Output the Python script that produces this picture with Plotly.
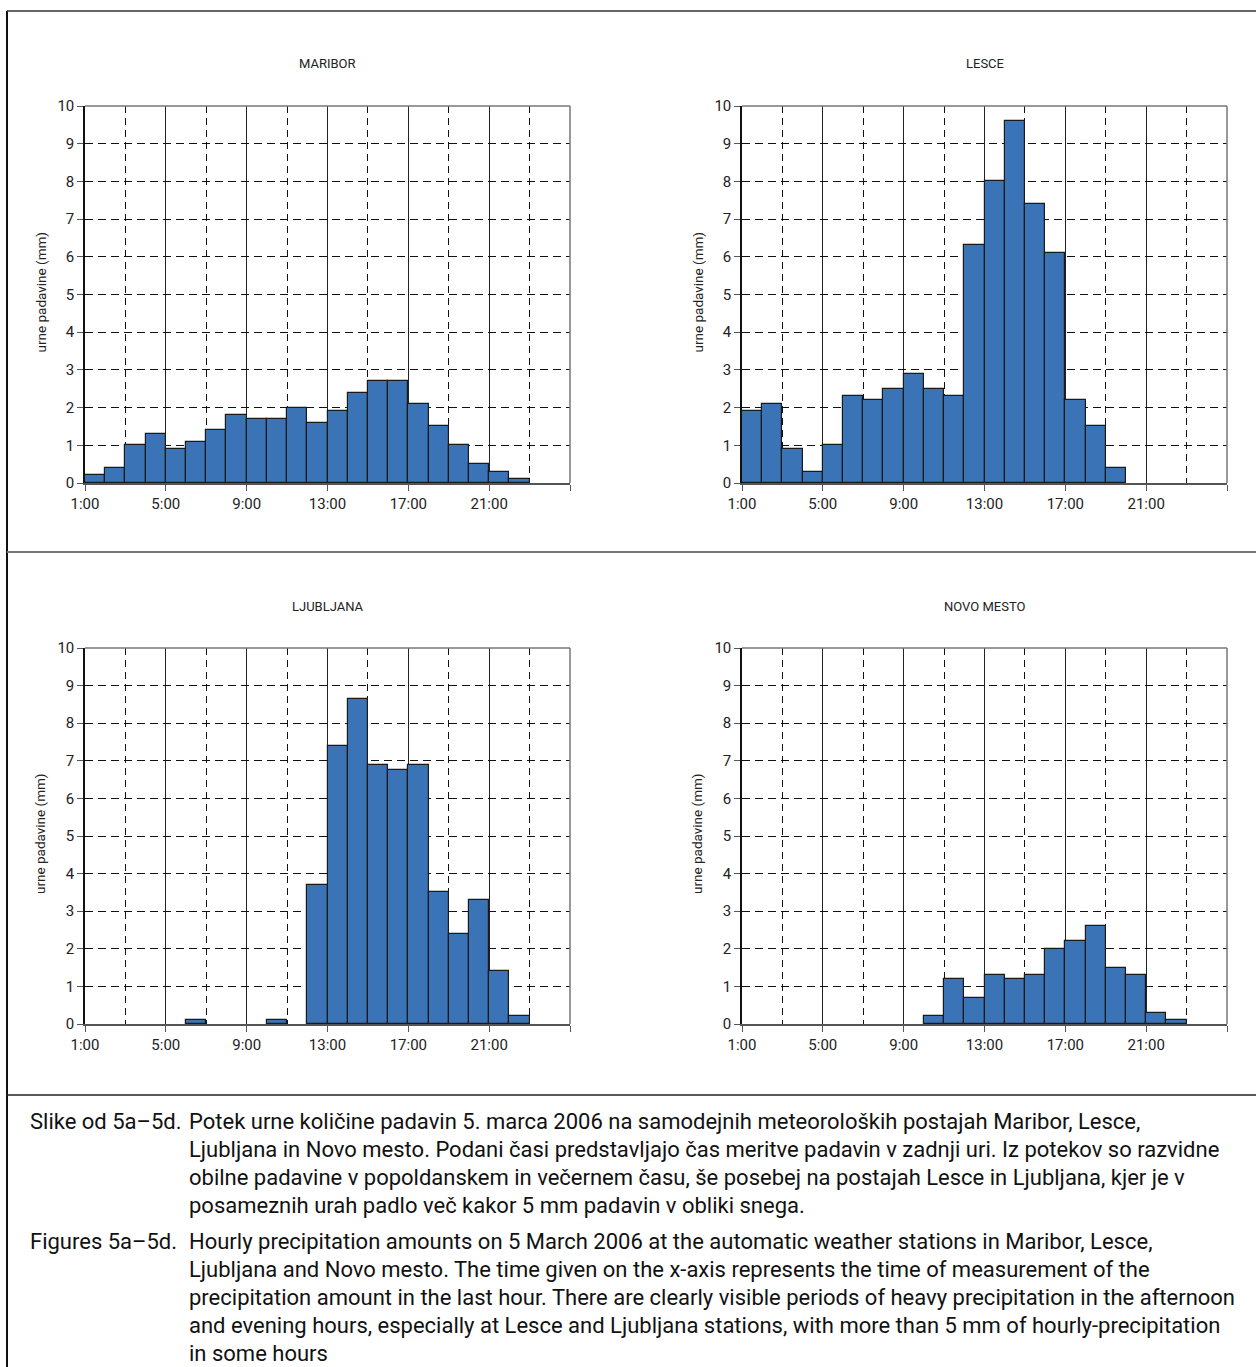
import plotly.graph_objects as go

# ---------------- data ----------------
hour_index = list(range(24))  # hourly slots, first slot labelled 1:00
tick_vals = [0, 4, 8, 12, 16, 20, 24]
tick_text = ["1:00", "5:00", "9:00", "13:00", "17:00", "21:00", ""]

maribor = [0.2, 0.4, 1.0, 1.3, 0.9, 1.1, 1.4, 1.8, 1.7, 1.7, 2.0, 1.6,
           1.9, 2.4, 2.7, 2.7, 2.1, 1.5, 1.0, 0.5, 0.3, 0.1, 0.0, 0.0]
lesce = [1.9, 2.1, 0.9, 0.3, 1.0, 2.3, 2.2, 2.5, 2.9, 2.5, 2.3, 6.3,
         8.0, 9.6, 7.4, 6.1, 2.2, 1.5, 0.4, 0.0, 0.0, 0.0, 0.0, 0.0]
ljubljana = [0.0, 0.0, 0.0, 0.0, 0.0, 0.1, 0.0, 0.0, 0.0, 0.1, 0.0, 3.7,
             7.4, 8.65, 6.9, 6.75, 6.9, 3.5, 2.4, 3.3, 1.4, 0.2, 0.0, 0.0]
novo_mesto = [0.0, 0.0, 0.0, 0.0, 0.0, 0.0, 0.0, 0.0, 0.0, 0.2, 1.2, 0.7,
              1.3, 1.2, 1.3, 2.0, 2.2, 2.6, 1.5, 1.3, 0.3, 0.1, 0.0, 0.0]

station_names = ["MARIBOR", "LESCE", "LJUBLJANA", "NOVO MESTO"]
station_values = [maribor, lesce, ljubljana, novo_mesto]
y_title = "urne padavine (mm)"

caption_label_sl = "Slike od 5a–5d."
caption_sl = [
    "Potek urne količine padavin 5. marca 2006 na samodejnih meteoroloških postajah Maribor, Lesce,",
    "Ljubljana in Novo mesto. Podani časi predstavljajo čas meritve padavin v zadnji uri. Iz potekov so razvidne",
    "obilne padavine v popoldanskem in večernem času, še posebej na postajah Lesce in Ljubljana, kjer je v",
    "posameznih urah padlo več kakor 5 mm padavin v obliki snega.",
]
caption_label_en = "Figures 5a–5d."
caption_en = [
    "Hourly precipitation amounts on 5 March 2006 at the automatic weather stations in Maribor, Lesce,",
    "Ljubljana and Novo mesto. The time given on the x-axis represents the time of measurement of the",
    "precipitation amount in the last hour. There are clearly visible periods of heavy precipitation in the afternoon",
    "and evening hours, especially at Lesce and Ljubljana stations, with more than 5 mm of hourly-precipitation",
    "in some hours",
]

# ---------------- layout helpers ----------------
W, H = 1256, 1367
FONT = "Roboto, Liberation Sans, Arial, sans-serif"
BAR_COLOR = "#3A74B7"


def px_x(p):
    return p / W


def px_y(p):
    return 1 - p / H


# plot areas in pixels: (left, right, top, bottom)
areas = [(85, 570, 106, 483), (742, 1227, 106, 483),
         (85, 570, 648, 1024), (742, 1227, 648, 1024)]

fig = go.Figure()
layout = dict(
    width=W, height=H, autosize=False,
    margin=dict(l=0, r=0, t=0, b=0, pad=0, autoexpand=False),
    paper_bgcolor="white", plot_bgcolor="white",
    showlegend=False, bargap=0,
    font=dict(family=FONT, color="#222"),
)
annotations = []
shapes = []

for k, (name, vals) in enumerate(zip(station_names, station_values)):
    n = k + 1
    xa = "x" if n == 1 else f"x{n}"
    ya = "y" if n == 1 else f"y{n}"
    l, r, t, b = areas[k]
    # hours with no precipitation draw no bar
    shown = [v if v > 0 else None for v in vals]
    fig.add_trace(go.Bar(
        x=hour_index, y=shown, offset=0, width=1,
        marker=dict(color=BAR_COLOR, line=dict(color="#1a1a1a", width=1.2)),
        xaxis=xa, yaxis=ya, hoverinfo="x+y",
    ))
    layout["xaxis" if n == 1 else f"xaxis{n}"] = dict(
        domain=[px_x(l), px_x(r)], anchor=ya, range=[0, 24],
        tickmode="array", tickvals=tick_vals, ticktext=tick_text,
        ticks="outside", ticklen=6, tickcolor="#555", tickwidth=1,
        showline=True, linecolor="#555", linewidth=1.5,
        showgrid=True, gridcolor="#222", gridwidth=1,
        zeroline=False, tickfont=dict(size=15, family=FONT, color="#222"),
        minor=dict(tickmode="array", tickvals=[2, 6, 10, 14, 18, 22],
                   showgrid=True, gridcolor="#111", griddash="7px,5px",
                   gridwidth=1, ticks=""),
        fixedrange=True, automargin=False,
    )
    layout["yaxis" if n == 1 else f"yaxis{n}"] = dict(
        domain=[px_y(b), px_y(t)], anchor=xa, range=[0, 10],
        tickmode="linear", tick0=0, dtick=1,
        ticks="outside", ticklen=6, tickcolor="#555", tickwidth=1,
        showline=True, linecolor="#111", linewidth=1.5,
        showgrid=True, gridcolor="#111", gridwidth=1, griddash="8px,5px",
        zeroline=False, tickfont=dict(size=15, family=FONT, color="#222"),
        fixedrange=True, automargin=False,
    )
    # top and right plot-area border (grey)
    shapes.append(dict(type="line", xref=f"{xa} domain", yref=f"{ya} domain",
                       x0=0, x1=1, y0=1, y1=1,
                       line=dict(color="#777", width=1.5)))
    shapes.append(dict(type="line", xref=f"{xa} domain", yref=f"{ya} domain",
                       x0=1, x1=1, y0=0, y1=1,
                       line=dict(color="#777", width=1.5)))
    # station title
    annotations.append(dict(text=name, x=px_x((l + r) / 2), y=px_y(t - 42),
                            xref="paper", yref="paper", showarrow=False,
                            xanchor="center", yanchor="middle",
                            font=dict(size=13, family=FONT, color="#222")))
    # y-axis title
    annotations.append(dict(text=y_title, x=px_x(l - 45), y=px_y((t + b) / 2 - 2),
                            xref="paper", yref="paper", showarrow=False,
                            textangle=-90, xanchor="center", yanchor="middle",
                            font=dict(size=13.5, family=FONT, color="#222")))

# outer frame lines
shapes += [
    dict(type="line", xref="paper", yref="paper", x0=px_x(7), x1=px_x(7),
         y0=px_y(11), y1=0, line=dict(color="#111", width=2)),
    dict(type="line", xref="paper", yref="paper", x0=px_x(7), x1=1,
         y0=px_y(11), y1=px_y(11), line=dict(color="#333", width=1.5)),
    dict(type="line", xref="paper", yref="paper", x0=px_x(7), x1=1,
         y0=px_y(552), y1=px_y(552), line=dict(color="#777", width=2)),
    dict(type="line", xref="paper", yref="paper", x0=px_x(7), x1=1,
         y0=px_y(1095), y1=px_y(1095), line=dict(color="#222", width=1.5)),
]

# caption
CAP = 22
annotations.append(dict(text=caption_label_sl, x=px_x(28), y=px_y(1121),
                        xref="paper", yref="paper", showarrow=False,
                        xanchor="left", yanchor="middle",
                        font=dict(size=CAP, family=FONT, color="#111")))
for i, line in enumerate(caption_sl):
    annotations.append(dict(text=line, x=px_x(187), y=px_y(1121 + 28 * i),
                            xref="paper", yref="paper", showarrow=False,
                            xanchor="left", yanchor="middle",
                            font=dict(size=CAP, family=FONT, color="#111")))
annotations.append(dict(text=caption_label_en, x=px_x(28), y=px_y(1241),
                        xref="paper", yref="paper", showarrow=False,
                        xanchor="left", yanchor="middle",
                        font=dict(size=CAP, family=FONT, color="#111")))
for i, line in enumerate(caption_en):
    annotations.append(dict(text=line, x=px_x(187), y=px_y(1241 + 28 * i),
                            xref="paper", yref="paper", showarrow=False,
                            xanchor="left", yanchor="middle",
                            font=dict(size=CAP, family=FONT, color="#111")))

layout["annotations"] = annotations
layout["shapes"] = shapes
fig.update_layout(**layout)
fig.write_html("out.html", config={"displayModeBar": False},
               post_script="document.body.style.margin='0';document.body.style.overflow='hidden';")
